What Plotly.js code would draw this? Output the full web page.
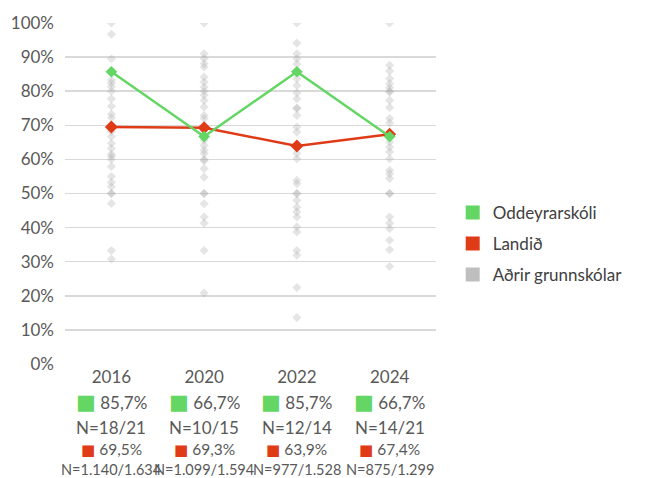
<!DOCTYPE html>
<html>
<head>
<meta charset="utf-8">
<script src="https://cdn.plot.ly/plotly-3.0.1.min.js"></script>
<style>html,body{margin:0;padding:0;background:#fff;}#chart{width:645px;height:478px;}</style>
</head>
<body>
<div id="chart"></div>
<script>
var years = ['2016', '2020', '2022', '2024'];
var oddeyri = [85.7, 66.7, 85.7, 66.7];
var oddeyriN = ['18/21', '10/15', '12/14', '14/21'];
var landid = [69.5, 69.3, 63.9, 67.4];
var landidN = ['1.140/1.634', '1.099/1.594', '977/1.528', '875/1.299'];

var other2016 = [100, 96.7, 89.5, 83.3, 82.4, 81.3, 80, 77.8, 75.6, 73.3, 72.2, 70, 68.2, 66.7, 64.7, 63.2, 61.5, 60.9, 60, 57.9, 55, 53.3, 52, 50, 50, 47.1, 33.3, 30.8];
var other2020 = [100, 91, 89.6, 88.1, 87.1, 84.2, 82.7, 81.2, 80, 78.8, 77.3, 75.4, 72.9, 72, 65.6, 64.1, 62.7, 61.7, 60, 59.6, 57.3, 54.8, 50, 50, 47, 43.1, 41.3, 33.3, 20.8];
var other2022 = [100, 94.1, 91, 89.5, 88, 83.7, 81.7, 79.5, 77.8, 75, 75, 72.9, 69.5, 68, 61.7, 60.2, 53.9, 52.9, 50, 50, 48, 46, 44.6, 43.1, 40.2, 38.7, 33.3, 31.9, 22.4, 13.6];
var other2024 = [100, 87.6, 85.9, 83.7, 82.2, 81, 80, 79.8, 77.3, 75.2, 72, 70.7, 65.1, 63.6, 62.2, 60.2, 56.8, 55.8, 54.4, 50, 50, 43.1, 41.3, 39.7, 36.3, 33.5, 28.6];

var otherByYear = [other2016, other2020, other2022, other2024];

var GREEN = '#63d663';
var RED = '#e03b17';
var GREYLEG = '#bfbfbf';
var TXT = '#595959';
var FONT = 'Lato, "Open Sans", sans-serif';

var gx = [], gy = [];
otherByYear.forEach(function (arr, i) {
  arr.forEach(function (v) { gx.push(years[i]); gy.push(v); });
});

function fmt(v) { return v.toFixed(1).replace('.', ',') + '%'; }

var traces = [
  { x: gx, y: gy, type: 'scatter', mode: 'markers', showlegend: false, hoverinfo: 'skip',
    marker: { symbol: 'diamond', size: 7, color: 'rgba(170,170,170,0.3)' } },
  { x: years, y: landid, type: 'scatter', mode: 'lines+markers', showlegend: false, hoverinfo: 'skip',
    line: { color: RED, width: 2.5 }, marker: { symbol: 'diamond', size: 10, color: RED } },
  { x: years, y: oddeyri, type: 'scatter', mode: 'lines+markers', showlegend: false, hoverinfo: 'skip',
    line: { color: GREEN, width: 2.5 }, marker: { symbol: 'diamond', size: 9, color: GREEN } },
  { x: [null], y: [null], type: 'scatter', mode: 'markers', name: 'Oddeyrarskóli', legendgroup: 'a',
    marker: { symbol: 'square', size: 14, color: GREEN } },
  { x: [null], y: [null], type: 'scatter', mode: 'markers', name: 'Landið', legendgroup: 'b',
    marker: { symbol: 'square', size: 14, color: RED } },
  { x: [null], y: [null], type: 'scatter', mode: 'markers', name: 'Aðrir grunnskólar', legendgroup: 'c',
    marker: { symbol: 'square', size: 14, color: GREYLEG } }
];

var annotations = [];
years.forEach(function (yr, i) {
  var xp = (i + 0.5) / years.length;
  annotations.push({ x: xp, xref: 'paper', yref: 'paper', y: -0.112, xanchor: 'center', yanchor: 'middle', showarrow: false,
    text: '<span style="color:' + GREEN + ';font-family:DejaVu Sans;font-size:21px">■</span> ' + fmt(oddeyri[i]),
    font: { family: FONT, size: 17, color: TXT } });
  annotations.push({ x: xp, xref: 'paper', yref: 'paper', y: -0.185, xanchor: 'center', yanchor: 'middle', showarrow: false,
    text: 'N=' + oddeyriN[i], font: { family: FONT, size: 17, color: TXT } });
  annotations.push({ x: xp, xref: 'paper', yref: 'paper', y: -0.251, xanchor: 'center', yanchor: 'middle', showarrow: false,
    text: '<span style="color:' + RED + ';font-family:DejaVu Sans;font-size:15px">■</span> ' + fmt(landid[i]),
    font: { family: FONT, size: 15.5, color: TXT } });
  annotations.push({ x: xp, xref: 'paper', yref: 'paper', y: -0.309, xanchor: 'center', yanchor: 'middle', showarrow: false,
    text: 'N=' + landidN[i], font: { family: FONT, size: 14.5, color: TXT } });
});

var layout = {
  width: 645, height: 478,
  margin: { l: 65, r: 209, t: 23, b: 114, pad: 0 },
  paper_bgcolor: '#fff', plot_bgcolor: '#fff',
  font: { family: FONT, color: TXT, size: 17 },
  showlegend: true,
  legend: { x: 1.045, xanchor: 'left', y: 0.496, yanchor: 'top', traceorder: 'grouped', tracegroupgap: 6,
    font: { family: FONT, size: 17, color: '#404040' }, bgcolor: 'rgba(0,0,0,0)' },
  xaxis: { type: 'category', categoryorder: 'array', categoryarray: years, range: [-0.5, 3.5],
    showgrid: false, zeroline: false, showline: false, ticks: '', ticklabelstandoff: 1,
    tickfont: { family: FONT, size: 17, color: TXT }, fixedrange: true },
  yaxis: { range: [0, 100], dtick: 10, ticksuffix: '%', showgrid: true, gridcolor: '#d9d9d9', gridwidth: 1.5,
    zeroline: false, showline: false, ticks: '', ticklabelstandoff: 10,
    tickfont: { family: FONT, size: 17, color: TXT }, fixedrange: true },
  annotations: annotations,
  hovermode: false
};

Plotly.newPlot('chart', traces, layout, { staticPlot: true });
</script>
</body>
</html>
